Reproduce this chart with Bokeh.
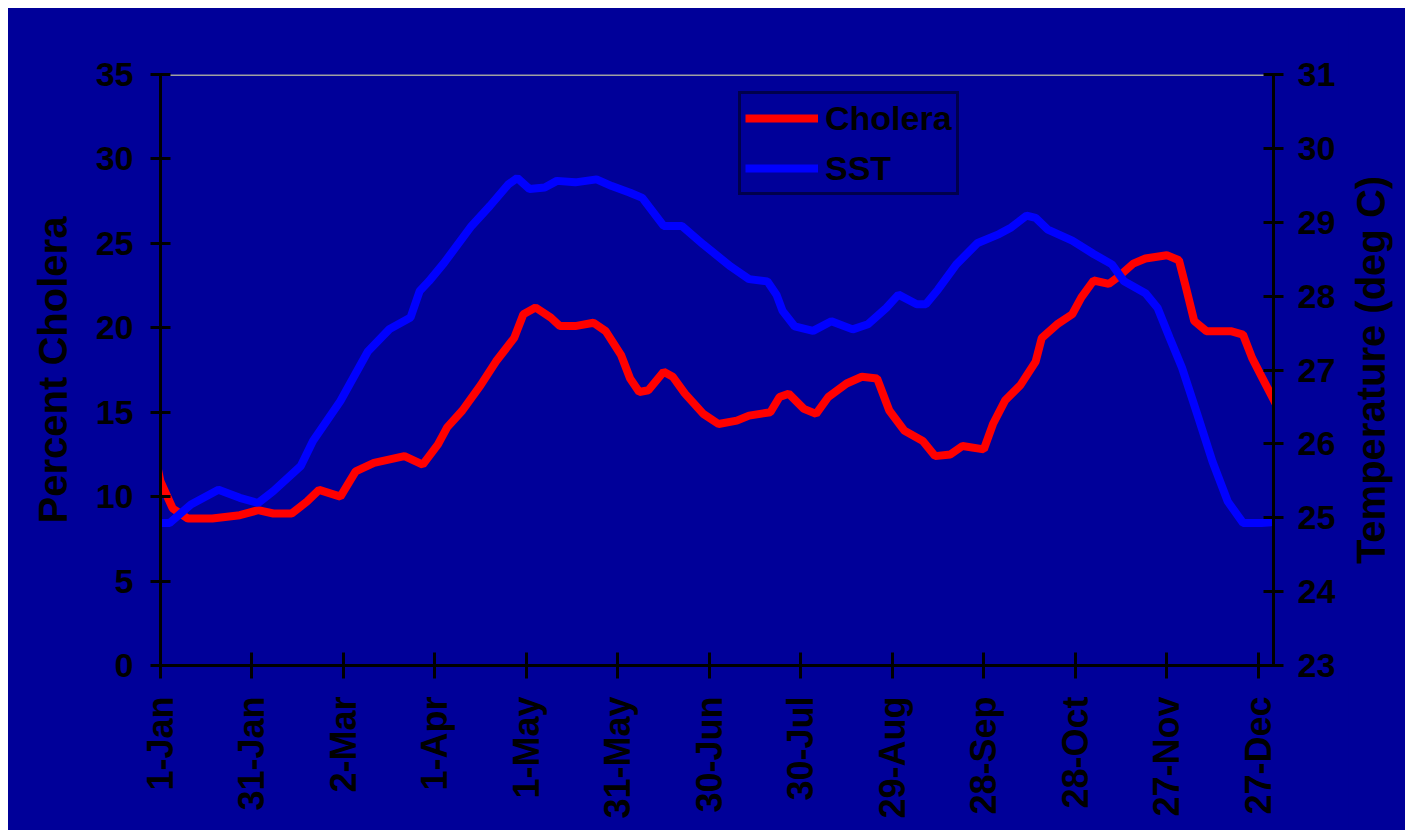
import math
from bokeh.plotting import figure
from bokeh.layouts import row
from bokeh.models import Range1d, LinearAxis, FixedTicker, Legend, LegendItem, Label
from bokeh.embed import file_html
from bokeh.resources import INLINE

# ---------------- data ----------------
tick_days = [0, 30, 60, 90, 120, 150, 180, 210, 240, 270, 300, 330, 360]
tick_labels = ["1-Jan", "31-Jan", "2-Mar", "1-Apr", "1-May", "31-May", "30-Jun",
               "30-Jul", "29-Aug", "28-Sep", "28-Oct", "27-Nov", "27-Dec"]

cholera_day = [-3, 0, 4, 9, 17, 26, 32, 37, 43, 48, 52, 59, 64, 70, 80, 86, 91, 94,
               99, 105, 110, 116, 119, 123, 128, 131, 136, 142, 146, 151, 154, 157,
               160, 165, 168, 172, 178, 183, 189, 193, 200, 203, 206, 211, 215, 219,
               225, 230, 235, 239, 244, 250, 254, 259, 263, 270, 273, 277, 282, 287,
               289, 294, 299, 302, 306, 311, 314, 319, 323, 330, 334, 336, 339, 343,
               351, 355, 358, 362, 366, 368]
cholera_pct = [13.5, 10.9, 9.3, 8.7, 8.7, 8.9, 9.2, 9.0, 9.0, 9.7, 10.4, 10.0, 11.5,
               12.0, 12.4, 11.9, 13.1, 14.1, 15.1, 16.6, 18.0, 19.4, 20.8, 21.2, 20.6,
               20.1, 20.1, 20.3, 19.8, 18.4, 17.0, 16.2, 16.3, 17.4, 17.1, 16.1, 14.9,
               14.3, 14.5, 14.8, 15.0, 15.9, 16.1, 15.2, 14.9, 15.9, 16.7, 17.1, 17.0,
               15.1, 13.9, 13.3, 12.4, 12.5, 13.0, 12.8, 14.3, 15.7, 16.6, 18.0, 19.4,
               20.2, 20.8, 21.8, 22.8, 22.6, 23.0, 23.8, 24.1, 24.3, 24.0, 22.6, 20.4,
               19.8, 19.8, 19.6, 18.2, 16.8, 15.4, 14.9]

sst_day = [-3, 0, 3, 10, 19, 26, 32, 37, 46, 50, 59, 68, 75, 82, 85, 88, 93, 102,
           108, 114, 117, 121, 126, 130, 136, 143, 148, 154, 158, 165, 171, 178, 187,
           193, 199, 202, 204, 208, 214, 220, 227, 232, 238, 242, 248, 251, 255, 261,
           268, 275, 279, 284, 287, 291, 299, 306, 312, 316, 323, 327, 331, 335, 340,
           345, 350, 355, 361, 368]
sst_temp = [24.93, 24.93, 24.93, 25.18, 25.38, 25.27, 25.20, 25.36, 25.70, 26.04,
            26.58, 27.25, 27.55, 27.71, 28.07, 28.20, 28.45, 28.95, 29.22, 29.51,
            29.60, 29.45, 29.47, 29.56, 29.54, 29.58, 29.49, 29.40, 29.33, 28.95,
            28.95, 28.70, 28.40, 28.23, 28.20, 28.02, 27.80, 27.59, 27.53, 27.66,
            27.55, 27.62, 27.84, 28.02, 27.89, 27.89, 28.09, 28.43, 28.72, 28.84,
            28.93, 29.09, 29.06, 28.90, 28.75, 28.57, 28.43, 28.20, 28.04, 27.84,
            27.43, 27.03, 26.40, 25.76, 25.22, 24.93, 24.93, 24.95]

pct_ticks = [0, 5, 10, 15, 20, 25, 30, 35]
temp_ticks = [23, 24, 25, 26, 27, 28, 29, 30, 31]
DAY_FIRST, DAY_LAST = 0, 365
PCT_MIN, PCT_MAX = 0, 35
TEMP_MIN, TEMP_MAX = 23, 31
LEFT_TITLE = "Percent Cholera"
RIGHT_TITLE = "Temperature (deg C)"

# ---------------- styling ----------------
BG = "#000099"
FONT = "Liberation Sans"
TICK_FS = "34px"
XTICK_FS = "36px"
TITLE_FS = "40px"
BORDER_TOP, BORDER_BOTTOM = 66, 165

p = figure(width=1340, height=822, output_backend="svg", toolbar_location=None,
           x_range=Range1d(DAY_FIRST, DAY_LAST), y_range=Range1d(PCT_MIN, PCT_MAX),
           min_border_left=152, min_border_right=75, min_border_top=BORDER_TOP,
           min_border_bottom=BORDER_BOTTOM, background_fill_alpha=0,
           border_fill_color=BG, outline_line_color=None, margin=0)
p.extra_y_ranges = {"temp": Range1d(TEMP_MIN, TEMP_MAX)}
p.grid.visible = False


def style_axis(ax, tick_len, fs):
    ax.axis_line_color = "black"
    ax.axis_line_width = 3
    ax.major_tick_line_color = "black"
    ax.major_tick_line_width = 3
    ax.major_tick_in = tick_len
    ax.major_tick_out = tick_len
    ax.minor_tick_line_color = None
    ax.major_label_text_font = FONT
    ax.major_label_text_font_style = "bold"
    ax.major_label_text_font_size = fs
    ax.major_label_text_color = "black"
    ax.axis_label_text_font = FONT
    ax.axis_label_text_font_style = "bold"
    ax.axis_label_text_font_size = TITLE_FS
    ax.axis_label_text_color = "black"


# x axis
xa = p.xaxis[0]
style_axis(xa, 13, XTICK_FS)
xa.ticker = FixedTicker(ticks=tick_days)
xa.major_label_overrides = {d: lab for d, lab in zip(tick_days, tick_labels)}
xa.major_label_orientation = math.pi / 2
xa.major_label_standoff = 18

# left axis
ya = p.yaxis[0]
style_axis(ya, 10, TICK_FS)
ya.ticker = FixedTicker(ticks=pct_ticks)
ya.axis_label = LEFT_TITLE
ya.major_label_standoff = 17
ya.axis_label_standoff = 18

# right axis
ra = LinearAxis(y_range_name="temp", ticker=FixedTicker(ticks=temp_ticks))
style_axis(ra, 10, TICK_FS)
ra.major_label_standoff = 14
p.add_layout(ra, "right")

# grey line at the top value
p.segment(x0=[DAY_FIRST], x1=[DAY_LAST], y0=[PCT_MAX], y1=[PCT_MAX],
          line_color="#a0a0a0", line_width=3)

r_chol = p.line(cholera_day, cholera_pct, line_color="#ff0000", line_width=8)
r_sst = p.line(sst_day, sst_temp, line_color="#0000ff", line_width=8,
               y_range_name="temp")

legend = Legend(items=[LegendItem(label="Cholera", renderers=[r_chol]),
                       LegendItem(label="SST", renderers=[r_sst])],
                location=(578, 470))
legend.border_line_color = "black"
legend.border_line_width = 3
legend.background_fill_alpha = 0
legend.label_text_font = FONT
legend.label_text_font_style = "bold"
legend.label_text_font_size = "34px"
legend.label_text_color = "black"
legend.glyph_width = 73
legend.glyph_height = 40
legend.label_height = 40
legend.label_standoff = 7
legend.padding = 4
legend.spacing = 10
legend.margin = 0
p.add_layout(legend, "center")

# narrow strip on the right that carries the right axis title (reads bottom-to-top)
p2 = figure(width=57, height=822, output_backend="svg", toolbar_location=None,
            x_range=Range1d(0, 1), y_range=Range1d(0, 1),
            x_axis_location=None, y_axis_location=None,
            min_border_left=0, min_border_right=13, min_border_top=BORDER_TOP,
            min_border_bottom=BORDER_BOTTOM, background_fill_alpha=0,
            border_fill_color=BG, outline_line_color=None, margin=0)
p2.grid.visible = False
p2.add_layout(Label(x=0.5, y=0.5, text=RIGHT_TITLE, angle=math.pi / 2,
                    text_align="center", text_baseline="middle", text_font=FONT,
                    text_font_style="bold", text_font_size=TITLE_FS,
                    text_color="black"))

layout = row(p, p2, spacing=0, margin=(8, 8, 8, 8),
             styles={"background-color": BG})
open("out.html", "w").write(file_html(layout, INLINE))
